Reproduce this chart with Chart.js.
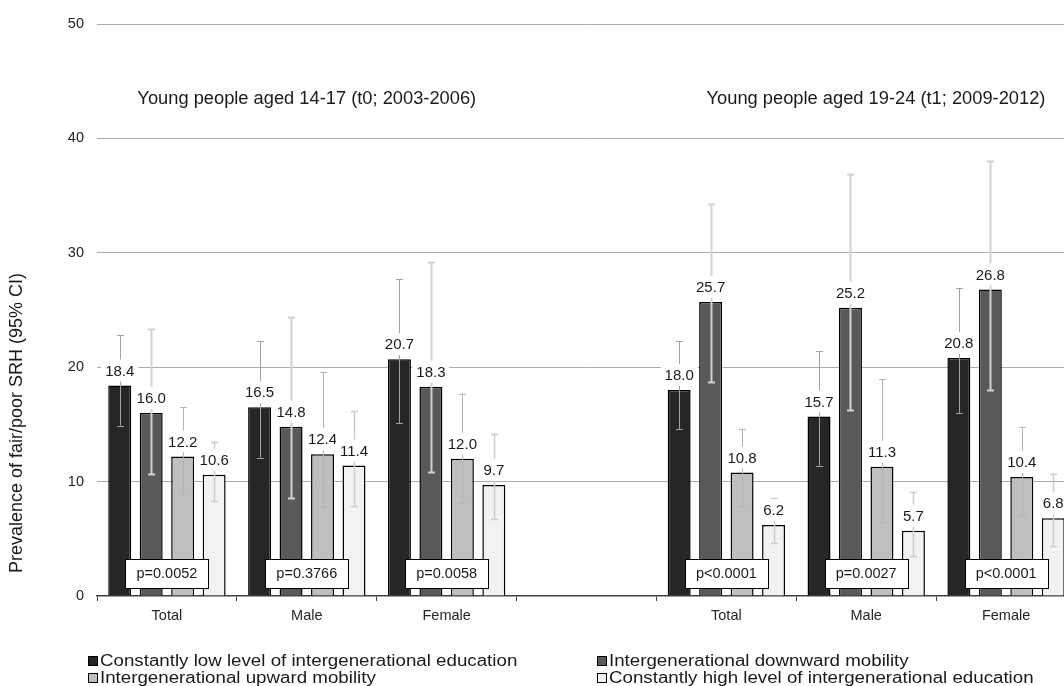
<!DOCTYPE html>
<html>
<head>
<meta charset="utf-8">
<script src="https://cdn.jsdelivr.net/npm/chart.js@4"></script>
<style>
  html, body { margin: 0; padding: 0; background: #fff; overflow: hidden; }
  #wrap { width: 1064px; height: 686px; overflow: hidden; position: relative; }
  canvas { display: block; }
</style>
</head>
<body>
<div id="wrap"><canvas id="c" width="1090" height="686"></canvas></div>
<script>
// Categories on the x axis (the blank one separates the two survey waves)
const categories = ['Total', 'Male', 'Female', '', 'Total', 'Male', 'Female'];

// Prevalence of fair/poor self-rated health (%) per mobility group
const constantlyLow  = [18.4, 16.5, 20.7, null, 18.0, 15.7, 20.8];
const downward       = [16.0, 14.8, 18.3, null, 25.7, 25.2, 26.8];
const upward         = [12.2, 12.4, 12.0, null, 10.8, 11.3, 10.4];
const constantlyHigh = [10.6, 11.4,  9.7, null,  6.2,  5.7,  6.8];

// 95% confidence intervals (lower / upper)
const constantlyLowCiLo  = [14.9, 12.1, 15.1, null, 14.6, 11.4, 16.0];
const constantlyLowCiHi  = [22.8, 22.3, 27.7, null, 22.3, 21.4, 26.9];
const downwardCiLo       = [10.7,  8.6, 10.8, null, 18.7, 16.3, 18.0];
const downwardCiHi       = [23.3, 24.4, 29.2, null, 34.3, 36.9, 38.0];
const upwardCiLo         = [ 8.9,  7.8,  8.1, null,  7.9,  6.5,  7.1];
const upwardCiHi         = [16.5, 19.6, 17.7, null, 14.6, 19.0, 14.8];
const constantlyHighCiLo = [ 8.3,  7.9,  6.7, null,  4.6,  3.5,  4.4];
const constantlyHighCiHi = [13.5, 16.2, 14.2, null,  8.6,  9.1, 10.7];

// p-values of the group comparison in each category
const pValues = ['p=0.0052', 'p=0.3766', 'p=0.0058', null, 'p<0.0001', 'p=0.0027', 'p<0.0001'];

// Wave headings, anchored over a category position
const waveTitles = ['Young people aged 14-17 (t0; 2003-2006)', 'Young people aged 19-24 (t1; 2009-2012)'];
const waveTitleAnchors = [1.0, 5.07];
const waveTitleLevel = 43.0;

// Y axis ticks
const yTicks = [0, 10, 20, 30, 40, 50];

const seriesNames = [
  'Constantly low level of intergenerational education',
  'Intergenerational downward mobility',
  'Intergenerational upward mobility',
  'Constantly high level of intergenerational education'
];

const FONT = "'Liberation Sans', Arial, Helvetica, sans-serif";
Chart.defaults.font.family = FONT;
Chart.defaults.color = '#262626';

const fills = ['#262626', '#595959', '#bfbfbf', '#f2f2f2'];
const ciStyle = [
  { color: '#a3a3a3', width: 1 },
  { color: '#d2d2d2', width: 2 },
  { color: '#b3b3b3', width: 1 },
  { color: '#cdcdcd', width: 1.5 }
];
const ciLo = [constantlyLowCiLo, downwardCiLo, upwardCiLo, constantlyHighCiLo];
const ciHi = [constantlyLowCiHi, downwardCiHi, upwardCiHi, constantlyHighCiHi];

const overlays = {
  id: 'overlays',
  afterDatasetsDraw(chart) {
    const ctx = chart.ctx;
    const y = chart.scales.y;
    const x = chart.scales.x;

    // Error bars
    chart.data.datasets.forEach((ds, i) => {
      const meta = chart.getDatasetMeta(i);
      meta.data.forEach((bar, j) => {
        if (ds.data[j] == null) return;
        const px = Math.round(bar.x) + 0.5;
        const yl = y.getPixelForValue(ciLo[i][j]);
        const yh = y.getPixelForValue(ciHi[i][j]);
        ctx.save();
        ctx.strokeStyle = ciStyle[i].color;
        ctx.lineWidth = ciStyle[i].width;
        ctx.beginPath();
        ctx.moveTo(px, yl); ctx.lineTo(px, yh);
        ctx.moveTo(px - 3.5, Math.round(yl) + 0.5); ctx.lineTo(px + 3.5, Math.round(yl) + 0.5);
        ctx.moveTo(px - 3.5, Math.round(yh) + 0.5); ctx.lineTo(px + 3.5, Math.round(yh) + 0.5);
        ctx.stroke();
        ctx.restore();
      });
    });

    // Value labels on a white ground
    ctx.save();
    ctx.font = '15px ' + FONT;
    ctx.textAlign = 'center';
    ctx.textBaseline = 'middle';
    chart.data.datasets.forEach((ds, i) => {
      const meta = chart.getDatasetMeta(i);
      meta.data.forEach((bar, j) => {
        const v = ds.data[j];
        if (v == null) return;
        const txt = v.toFixed(1);
        const w = ctx.measureText(txt).width;
        const cy = bar.y - 15;
        ctx.fillStyle = '#fff';
        ctx.fillRect(bar.x - w / 2 - 4, cy - 11, w + 8, 22);
        ctx.fillStyle = '#1a1a1a';
        ctx.fillText(txt, bar.x, cy + 1);
      });
    });
    ctx.restore();

    // p-value boxes
    ctx.save();
    ctx.font = '14.5px ' + FONT;
    ctx.textAlign = 'center';
    ctx.textBaseline = 'middle';
    pValues.forEach((p, j) => {
      if (!p) return;
      const cx = x.getPixelForValue(j);
      const cy = y.getPixelForValue(1.97);
      const bw = 83, bh = 29;
      const left = Math.round(cx - bw / 2) + 0.5;
      const top = Math.round(cy - bh / 2) + 0.5;
      ctx.fillStyle = '#fff';
      ctx.fillRect(left, top, bw, bh);
      ctx.strokeStyle = '#000';
      ctx.lineWidth = 1;
      ctx.strokeRect(left, top, bw, bh);
      ctx.fillStyle = '#1a1a1a';
      ctx.fillText(p, cx, cy + 1);
    });
    ctx.restore();

    // Wave headings
    ctx.save();
    ctx.font = '18.3px ' + FONT;
    ctx.textAlign = 'center';
    ctx.textBaseline = 'alphabetic';
    ctx.fillStyle = '#1a1a1a';
    waveTitles.forEach((t, k) => {
      ctx.fillText(t, x.getPixelForValue(waveTitleAnchors[k]), y.getPixelForValue(waveTitleLevel));
    });
    ctx.restore();
  },
  afterDraw(chart) {
    const ctx = chart.ctx;
    // Y axis title
    ctx.save();
    ctx.translate(17, 423);
    ctx.rotate(-Math.PI / 2);
    ctx.font = '18px ' + FONT;
    ctx.textAlign = 'center';
    ctx.textBaseline = 'middle';
    ctx.fillStyle = '#1a1a1a';
    ctx.fillText('Prevalence of fair/poor SRH (95% CI)', 0, 0);
    ctx.restore();

    // Legend, two columns by two rows; text is set wide in a compact height
    const spots = [[88, 661], [597, 661], [88, 678], [597, 678]];
    const stretch = 1.17;
    ctx.save();
    ctx.font = '16px ' + FONT;
    ctx.textBaseline = 'middle';
    chart.data.datasets.forEach((ds, i) => {
      const [lx, ly] = spots[i];
      ctx.fillStyle = fills[i];
      ctx.fillRect(lx + 0.5, ly - 4.5, 9, 9);
      ctx.strokeStyle = '#000';
      ctx.lineWidth = 1;
      ctx.strokeRect(lx + 0.5, ly - 4.5, 9, 9);
      ctx.save();
      ctx.translate(lx + 12, ly + 1);
      ctx.scale(stretch, 1);
      ctx.fillStyle = '#1a1a1a';
      ctx.fillText(ds.label, 0, 0);
      ctx.restore();
    });
    ctx.restore();
  }
};

const datasets = [constantlyLow, downward, upward, constantlyHigh].map((d, i) => ({
  label: seriesNames[i],
  data: d,
  backgroundColor: fills[i],
  borderColor: '#000',
  borderWidth: 1.5,
  categoryPercentage: 0.9,
  barPercentage: 0.73
}));

new Chart(document.getElementById('c'), {
  type: 'bar',
  data: { labels: categories, datasets },
  options: {
    responsive: false,
    animation: false,
    devicePixelRatio: 1,
    layout: { padding: { left: 0, right: 14, top: 24, bottom: 60 } },
    plugins: { legend: { display: false }, tooltip: { enabled: false } },
    scales: {
      x: {
        offset: true,
        grid: { display: true, offset: true, drawOnChartArea: false, drawTicks: true, tickLength: 5, color: '#404040', lineWidth: 1 },
        border: { display: true, color: '#404040', width: 1.5 },
        ticks: { font: { size: 14.5 }, padding: 6, color: '#262626', maxRotation: 0 },
        afterFit(s) { s.height = 30; }
      },
      y: {
        min: 0,
        max: 50,
        afterBuildTicks(s) { s.ticks = yTicks.map(v => ({ value: v })); },
        grid: { color: ctx => (ctx.tick && ctx.tick.value === 0) ? 'rgba(0,0,0,0)' : '#ababab', lineWidth: 1, drawTicks: false },
        border: { display: false },
        ticks: { font: { size: 14.5 }, padding: 13, color: '#262626' },
        afterFit(s) { s.width = 97; }
      }
    }
  },
  plugins: [overlays]
});
</script>
</body>
</html>
